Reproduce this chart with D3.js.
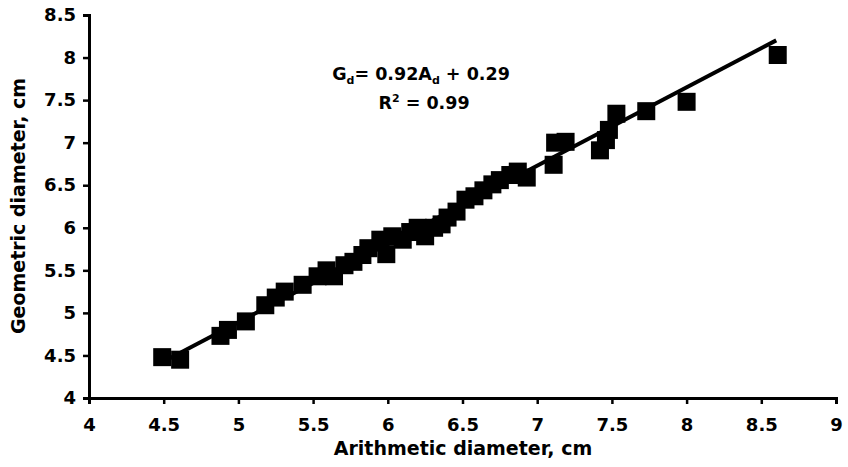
<!DOCTYPE html>
<html>
<head>
<meta charset="utf-8">
<script src="https://cdn.jsdelivr.net/npm/d3@7"></script>
<style>
  body { margin: 0; background: #fff; }
  svg text { font-family: "DejaVu Sans", "Liberation Sans", Arial, sans-serif; font-weight: bold; fill: #000; }
</style>
</head>
<body>
<svg id="chart" width="848" height="467"></svg>
<script>
// arithmetic vs geometric diameter (cm)
const arithmetic = [4.49, 4.61, 4.88, 4.93, 5.05, 5.18, 5.25, 5.31, 5.43, 5.53,
  5.59, 5.64, 5.71, 5.77, 5.83, 5.87, 5.95, 5.99, 6.03, 6.10,
  6.15, 6.20, 6.25, 6.31, 6.36, 6.40, 6.46, 6.52, 6.58, 6.64,
  6.70, 6.75, 6.82, 6.87, 6.93, 7.11, 7.12, 7.19, 7.42, 7.46,
  7.48, 7.53, 7.73, 8.00, 8.61];
const geometric = [4.48, 4.45, 4.73, 4.80, 4.90, 5.09, 5.18, 5.25, 5.33, 5.43,
  5.50, 5.43, 5.56, 5.60, 5.68, 5.76, 5.86, 5.69, 5.90, 5.86,
  5.95, 6.00, 5.90, 6.00, 6.04, 6.12, 6.19, 6.33, 6.37, 6.44,
  6.51, 6.56, 6.62, 6.66, 6.59, 6.74, 7.00, 7.01, 6.91, 7.03,
  7.15, 7.34, 7.37, 7.48, 8.03];
const xTicks = [4, 4.5, 5, 5.5, 6, 6.5, 7, 7.5, 8, 8.5, 9];
const yTicks = [4, 4.5, 5, 5.5, 6, 6.5, 7, 7.5, 8, 8.5];
const slope = 0.92, intercept = 0.29;
const fitRange = [4.5, 8.6];

const svg = d3.select("#chart");

const x = d3.scaleLinear().domain([4, 9]).range([89, 836]);
const y = d3.scaleLinear().domain([4, 8.5]).range([398, 15]);

// axes
const xAxis = svg.append("g")
  .attr("transform", `translate(0,${y(4)})`)
  .call(d3.axisBottom(x).tickValues(xTicks).tickSize(6).tickPadding(14)
    .tickFormat(d => d));
const yAxis = svg.append("g")
  .attr("transform", `translate(${x(4)},0)`)
  .call(d3.axisLeft(y).tickValues(yTicks).tickSize(6).tickPadding(7)
    .tickFormat(d => d));

[xAxis, yAxis].forEach(g => {
  g.select(".domain").attr("stroke", "#000").attr("stroke-width", 3);
  g.selectAll(".tick line").attr("stroke", "#000").attr("stroke-width", 2.5);
  g.selectAll(".tick text").style("font-size", "18px");
});

// fitted line
svg.append("line")
  .attr("x1", x(fitRange[0])).attr("y1", y(slope * fitRange[0] + intercept))
  .attr("x2", x(fitRange[1])).attr("y2", y(slope * fitRange[1] + intercept))
  .attr("stroke", "#000").attr("stroke-width", 4);

// square markers
const size = 18;
svg.append("g").selectAll("rect")
  .data(arithmetic.map((a, i) => [a, geometric[i]]))
  .join("rect")
  .attr("x", d => x(d[0]) - size / 2)
  .attr("y", d => y(d[1]) - size / 2)
  .attr("width", size).attr("height", size)
  .attr("fill", "#000");

// equation
const eq = svg.append("text").attr("x", 421).attr("y", 80)
  .attr("text-anchor", "middle").style("font-size", "17.5px");
eq.append("tspan").text("G");
eq.append("tspan").attr("dy", 4).style("font-size", "11px").text("d");
eq.append("tspan").attr("dy", -4).text("= 0.92A");
eq.append("tspan").attr("dy", 4).style("font-size", "11px").text("d");
eq.append("tspan").attr("dy", -4).text(" + 0.29");

const r2 = svg.append("text").attr("x", 424).attr("y", 109)
  .attr("text-anchor", "middle").style("font-size", "17.5px");
r2.append("tspan").text("R");
r2.append("tspan").attr("dy", -7).style("font-size", "11px").text("2");
r2.append("tspan").attr("dy", 7).text(" = 0.99");

// axis titles
svg.append("text").attr("x", 463).attr("y", 455)
  .attr("text-anchor", "middle").style("font-size", "19px")
  .text("Arithmetic diameter, cm");
svg.append("text")
  .attr("transform", `translate(25,206) rotate(-90)`)
  .attr("text-anchor", "middle").style("font-size", "19px")
  .text("Geometric diameter, cm");
</script>
</body>
</html>
